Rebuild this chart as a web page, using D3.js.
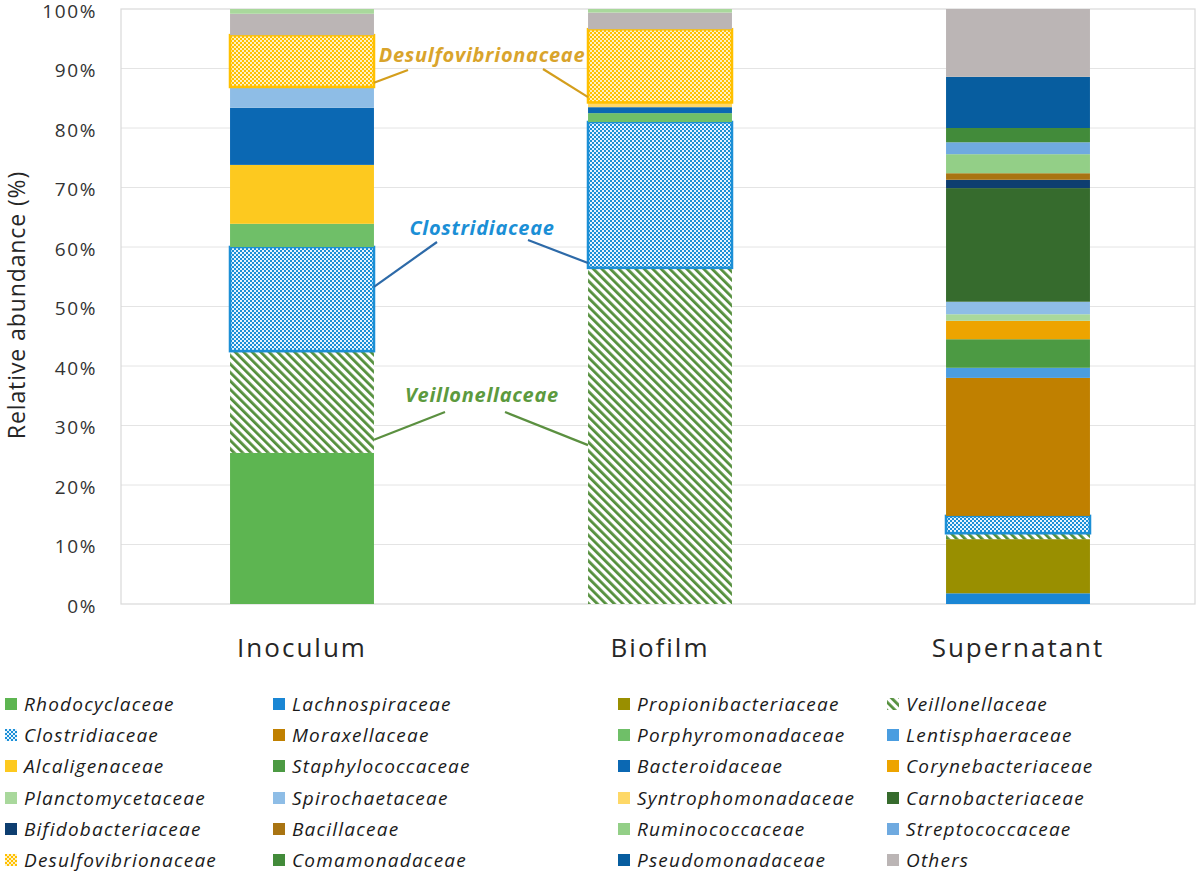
<!DOCTYPE html>
<html>
<head>
<meta charset="utf-8">
<script src="https://cdn.jsdelivr.net/npm/d3@7"></script>
<style>
  html, body { margin: 0; padding: 0; background: #fff; }
  svg { display: block; font-family: "Open Sans", "Noto Sans", sans-serif; }
</style>
</head>
<body>
<svg id="chart" width="1200" height="874"></svg>
<script>
// ---------- DATA ----------
const categories = ["Inoculum", "Biofilm", "Supernatant"];
const yTicks = [0, 10, 20, 30, 40, 50, 60, 70, 80, 90, 100];

// series in stacking order (bottom -> top), values for [Inoculum, Biofilm, Supernatant]
const seriesNames = [
  "Rhodocyclaceae", "Lachnospiraceae", "Propionibacteriaceae", "Veillonellaceae",
  "Clostridiaceae", "Moraxellaceae", "Porphyromonadaceae", "Lentisphaeraceae",
  "Alcaligenaceae", "Staphylococcaceae", "Bacteroidaceae", "Corynebacteriaceae",
  "Planctomycetaceae", "Spirochaetaceae", "Syntrophomonadaceae", "Carnobacteriaceae",
  "Bifidobacteriaceae", "Bacillaceae", "Ruminococcaceae", "Streptococcaceae",
  "Desulfovibrionaceae", "Comamonadaceae", "Pseudomonadaceae", "Others", "Unlisted"
];
const rhodocyclaceae      = [25.4, 0,    0];
const lachnospiraceae     = [0,    0,    1.8];
const propionibacteriaceae= [0,    0,    9.1];
const veillonellaceae     = [17.1, 56.5, 1.0];
const clostridiaceae      = [17.5, 24.5, 2.9];
const moraxellaceae       = [0,    0,    23.2];
const porphyromonadaceae  = [3.9,  1.5,  0];
const lentisphaeraceae    = [0,    0,    1.7];
const alcaligenaceae      = [9.9,  0,    0];
const staphylococcaceae   = [0,    0,    4.8];
const bacteroidaceae      = [9.6,  1.0,  0];
const corynebacteriaceae  = [0,    0,    3.1];
const planctomycetaceae   = [0,    0,    1.1];
const spirochaetaceae     = [3.5,  0,    2.1];
const syntrophomonadaceae = [0,    0.8,  0];
const carnobacteriaceae   = [0,    0,    19.1];
const bifidobacteriaceae  = [0,    0,    1.4];
const bacillaceae         = [0,    0,    1.1];
const ruminococcaceae     = [0,    0,    3.2];
const streptococcaceae    = [0,    0,    2.0];
const desulfovibrionaceae = [8.7,  12.3, 0];
const comamonadaceae      = [0,    0,    2.4];
const pseudomonadaceae    = [0,    0,    8.6];
const others              = [3.6,  2.8,  11.4];
const unlisted            = [0.8,  0.6,  0];

const seriesValues = [
  rhodocyclaceae, lachnospiraceae, propionibacteriaceae, veillonellaceae,
  clostridiaceae, moraxellaceae, porphyromonadaceae, lentisphaeraceae,
  alcaligenaceae, staphylococcaceae, bacteroidaceae, corynebacteriaceae,
  planctomycetaceae, spirochaetaceae, syntrophomonadaceae, carnobacteriaceae,
  bifidobacteriaceae, bacillaceae, ruminococcaceae, streptococcaceae,
  desulfovibrionaceae, comamonadaceae, pseudomonadaceae, others, unlisted
];

// annotations: label, and the bar-edge anchor values for Inoculum (right edge) and Biofilm (left edge)
const annotationLabels = ["Desulfovibrionaceae", "Clostridiaceae", "Veillonellaceae"];
const annotationLabelValues = [92.3, 63.2, 35.2];   // label centre height (%)
const annotationInoculumAnchor = [87.6, 53.3, 27.6];
const annotationBiofilmAnchor  = [85.2, 57.3, 26.7];

// ---------- STYLE ----------
const colors = {
  Rhodocyclaceae: "#5db551", Lachnospiraceae: "#1a86d4", Propionibacteriaceae: "#998f00",
  Veillonellaceae: "#548f3c", Clostridiaceae: "#1b8fd6", Moraxellaceae: "#c08000",
  Porphyromonadaceae: "#6fbf68", Lentisphaeraceae: "#4a9de0", Alcaligenaceae: "#fdc91f",
  Staphylococcaceae: "#4c9a43", Bacteroidaceae: "#0b68b3", Corynebacteriaceae: "#eda400",
  Planctomycetaceae: "#a9d89c", Spirochaetaceae: "#8ebde6", Syntrophomonadaceae: "#fed867",
  Carnobacteriaceae: "#366b2d", Bifidobacteriaceae: "#0e3e70", Bacillaceae: "#a97412",
  Ruminococcaceae: "#93cf87", Streptococcaceae: "#6faae0", Desulfovibrionaceae: "#ffc000",
  Comamonadaceae: "#428b3a", Pseudomonadaceae: "#075d9f", Others: "#bbb5b5", Unlisted: "#a9d89c"
};
const patternFill = {
  Veillonellaceae: "url(#hatchV)", Clostridiaceae: "url(#checkC)", Desulfovibrionaceae: "url(#checkD)"
};
const patternStroke = { Clostridiaceae: "#1b8fd6", Desulfovibrionaceae: "#ffc000" };
const annColors = {
  Desulfovibrionaceae: { text: "#d9a42c", line: "#d49e1c" },
  Clostridiaceae: { text: "#1b8fd6", line: "#2d6aa8" },
  Veillonellaceae: { text: "#5c9a3e", line: "#5b9040" }
};

// ---------- CHART ----------
const svg = d3.select("#chart");
const plot = { left: 121, right: 1195, top: 9, bottom: 604 };

const defs = svg.append("defs");
// diagonal hatch (\)
const ph = defs.append("pattern").attr("id", "hatchV").attr("patternUnits", "userSpaceOnUse")
  .attr("width", 6).attr("height", 6).attr("patternTransform", "rotate(-45)");
ph.append("rect").attr("width", 6).attr("height", 6).attr("fill", "#ffffff");
ph.append("rect").attr("width", 2.8).attr("height", 6).attr("fill", "#548f3c");
// checker patterns
function checker(id, c1, c2) {
  const p = defs.append("pattern").attr("id", id).attr("patternUnits", "userSpaceOnUse")
    .attr("width", 4).attr("height", 4);
  p.append("rect").attr("width", 4).attr("height", 4).attr("fill", c1);
  p.append("rect").attr("width", 2).attr("height", 2).attr("fill", c2);
  p.append("rect").attr("x", 2).attr("y", 2).attr("width", 2).attr("height", 2).attr("fill", c2);
}
checker("checkC", "#1b8fd6", "#e6f4ff");
checker("checkD", "#ffc000", "#fff1c4");

const x = d3.scaleBand().domain(categories).range([plot.left + 2, plot.right + 2]).padding(0);
const barW = x.bandwidth() * 0.402;
const y = d3.scaleLinear().domain([0, 100]).range([plot.bottom, plot.top]);

// gridlines
svg.append("g").selectAll("line").data(yTicks.slice(1, -1)).join("line")
  .attr("x1", plot.left).attr("x2", plot.right)
  .attr("y1", d => y(d)).attr("y2", d => y(d))
  .attr("stroke", "#e4e4e4").attr("stroke-width", 1);

// frame
svg.append("rect").attr("x", plot.left).attr("y", plot.top)
  .attr("width", plot.right - plot.left).attr("height", plot.bottom - plot.top)
  .attr("fill", "none").attr("stroke", "#d9d9d9").attr("stroke-width", 1.2);

// y axis
const yAxis = d3.axisLeft(y).tickValues(yTicks).tickFormat(d => d + "%").tickSize(0).tickPadding(0);
const ya = svg.append("g").attr("transform", "translate(97,0.8)").call(yAxis);
ya.select(".domain").remove();
ya.selectAll("text").attr("font-size", 19).attr("fill", "#333333").attr("letter-spacing", "1.6px")
  .attr("dy", "0.38em").attr("font-family", "'Open Sans', sans-serif");

svg.append("text").attr("transform", "translate(25,305) rotate(-90)")
  .attr("text-anchor", "middle").attr("font-size", 23).attr("fill", "#262626")
  .attr("letter-spacing", "0.9px")
  .text("Relative abundance (%)");

// stacked data
const table = categories.map((c, i) => {
  const o = { category: c };
  seriesNames.forEach((s, k) => { o[s] = seriesValues[k][i]; });
  return o;
});
const stacked = d3.stack().keys(seriesNames)(table);

const layers = svg.append("g").selectAll("g").data(stacked).join("g");
layers.selectAll("rect").data(d => d.map(v => ({ key: d.key, v })).filter(o => o.v[1] - o.v[0] > 0))
  .join("rect")
  .attr("x", o => x(o.v.data.category) + (x.bandwidth() - barW) / 2)
  .attr("width", barW)
  .attr("y", o => y(o.v[1]))
  .attr("height", o => y(o.v[0]) - y(o.v[1]))
  .attr("fill", o => patternFill[o.key] || colors[o.key])
  .attr("stroke", o => patternStroke[o.key] || "none")
  .attr("stroke-width", o => patternStroke[o.key] ? 2.6 : 0);

// x category labels
svg.append("g").selectAll("text").data(categories).join("text")
  .attr("x", d => x(d) + x.bandwidth() / 2)
  .attr("y", 648).attr("dy", "0.35em")
  .attr("text-anchor", "middle").attr("font-size", 26).attr("letter-spacing", "2px")
  .attr("fill", "#262626").text(d => d);

// annotations
const labelX = 482;
annotationLabels.forEach((name, i) => {
  const col = annColors[name];
  const ly = y(annotationLabelValues[i]);
  svg.append("text").attr("x", labelX).attr("y", ly).attr("dy", "0.35em")
    .attr("text-anchor", "middle").attr("font-size", 20).attr("font-weight", "bold")
    .attr("letter-spacing", "0.7px")
    .attr("font-style", "italic").attr("fill", col.text).text(name);
  const xl = x("Inoculum") + (x.bandwidth() + barW) / 2;
  const xr = x("Biofilm") + (x.bandwidth() - barW) / 2;
  const startsL = [[408, 70], [437, 242], [445, 412]];
  const startsR = [[543, 69], [528, 240], [505, 412]];
  svg.append("line").attr("x1", startsL[i][0]).attr("y1", startsL[i][1])
    .attr("x2", xl).attr("y2", y(annotationInoculumAnchor[i]))
    .attr("stroke", col.line).attr("stroke-width", 2.2);
  svg.append("line").attr("x1", startsR[i][0]).attr("y1", startsR[i][1])
    .attr("x2", xr).attr("y2", y(annotationBiofilmAnchor[i]))
    .attr("stroke", col.line).attr("stroke-width", 2.2);
});

// legend (row-major, 4 columns) excluding unlisted
const legendItems = seriesNames.filter(s => s !== "Unlisted");
const colX = [5, 273, 618, 887];
const rowY = [704, 735, 766, 798, 829, 860];
const lg = svg.append("g").selectAll("g").data(legendItems).join("g")
  .attr("transform", (d, i) => `translate(${colX[i % 4]},${rowY[Math.floor(i / 4)]})`);
lg.append("rect").attr("x", 0).attr("y", -6).attr("width", 12).attr("height", 12)
  .attr("fill", d => patternFill[d] || colors[d]);
lg.append("text").attr("x", 19).attr("dy", "0.35em")
  .attr("font-size", 19).attr("font-style", "italic").attr("letter-spacing", "1.2px")
  .attr("fill", "#1a1a1a").text(d => d);
</script>
</body>
</html>
